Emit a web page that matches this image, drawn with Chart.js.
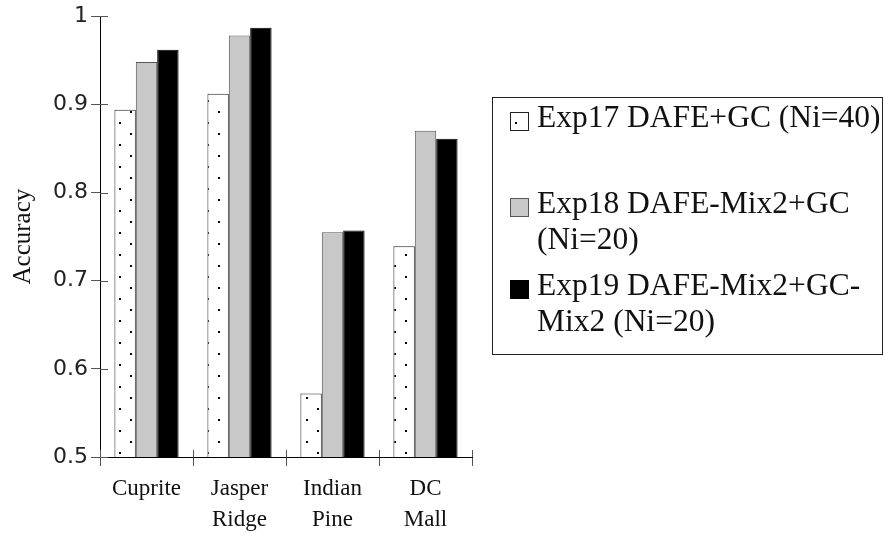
<!DOCTYPE html>
<html>
<head>
<meta charset="utf-8">
<script src="https://cdn.jsdelivr.net/npm/chart.js@4"></script>
<style>
  html, body { margin: 0; padding: 0; background: #fff; }
</style>
</head>
<body>
<canvas id="chart" width="885" height="533"></canvas>
<script>
const categories = [["Cuprite"], ["Jasper", "Ridge"], ["Indian", "Pine"], ["DC", "Mall"]];
const seriesLabels = [
  ["Exp17 DAFE+GC (Ni=40)"],
  ["Exp18 DAFE-Mix2+GC", "(Ni=20)"],
  ["Exp19 DAFE-Mix2+GC-", "Mix2 (Ni=20)"]
];
const exp17 = [0.894, 0.912, 0.572, 0.739];
const exp18 = [0.948, 0.978, 0.755, 0.870];
const exp19 = [0.962, 0.987, 0.757, 0.861];
const yTicks = [0.5, 0.6, 0.7, 0.8, 0.9, 1];

// sparse dot fill used by the Exp17 bars
function dotPattern() {
  const c = document.createElement("canvas");
  c.width = 22; c.height = 22;
  const g = c.getContext("2d");
  g.fillStyle = "#fff";
  g.fillRect(0, 0, 22, 22);
  g.fillStyle = "#000";
  g.fillRect(9, 12, 2, 2);
  g.fillRect(20, 1, 2, 2);
  return g.createPattern(c, "repeat");
}
const dots = dotPattern();
const fills = [dots, "#c8c8c8", "#000"];
const edges = ["#222", "#555", "#000"];

// ticks that cross the axes + boxed legend on the right
const extras = {
  id: "extras",
  afterDraw(chart) {
    const ctx = chart.ctx;
    const ca = chart.chartArea;
    const xs = chart.scales.x, ys = chart.scales.y;
    ctx.save();
    ctx.strokeStyle = "#555";
    ctx.lineWidth = 1;
    ctx.beginPath();
    ys.ticks.forEach((t) => {
      const py = Math.round(ys.getPixelForValue(t.value)) + 0.5;
      ctx.moveTo(ca.left, py);
      ctx.lineTo(ca.left + 8, py);
    });
    for (let i = 0; i <= categories.length; i++) {
      const px = Math.round(xs.getPixelForValue(i - 0.5)) + 0.5;
      ctx.moveTo(px, ca.bottom);
      ctx.lineTo(px, ca.bottom - 7);
    }
    ctx.stroke();

    // legend
    ctx.strokeStyle = "#222";
    ctx.strokeRect(492.5, 97.5, 390, 257);
    const baselines = [127, 213, 295];
    ctx.font = "31.5px 'Liberation Serif'";
    ctx.textBaseline = "alphabetic";
    ctx.textAlign = "left";
    seriesLabels.forEach((lines, i) => {
      const b = baselines[i];
      ctx.fillStyle = fills[i];
      ctx.fillRect(510, b - 15, 19, 19);
      ctx.strokeStyle = edges[i];
      ctx.strokeRect(510.5, b - 14.5, 18, 18);
      ctx.fillStyle = "#111";
      lines.forEach((s, j) => ctx.fillText(s, 537, b + j * 36));
    });
    ctx.restore();
  }
};

new Chart(document.getElementById("chart"), {
  type: "bar",
  data: {
    labels: categories,
    datasets: [exp17, exp18, exp19].map((d, i) => ({
      label: seriesLabels[i].join(" "),
      data: d,
      backgroundColor: fills[i],
      borderColor: edges[i],
      borderWidth: 1,
      categoryPercentage: 0.69,
      barPercentage: 1
    }))
  },
  options: {
    responsive: false,
    animation: false,
    layout: { padding: { top: 15, right: 413, bottom: 0, left: 0 } },
    plugins: { legend: { display: false }, tooltip: { enabled: false } },
    scales: {
      x: {
        grid: { drawOnChartArea: false, drawTicks: true, tickLength: 9, color: "#555", offset: true },
        border: { display: true, color: "#000", width: 1 },
        ticks: { color: "#111", padding: 7, font: { family: "'Liberation Serif'", size: 23, lineHeight: 1.35 } },
        afterFit: (s) => { s.height = 76; }
      },
      y: {
        min: 0.5,
        max: 1,
        afterBuildTicks: (s) => { s.ticks = yTicks.map((v) => ({ value: v })); },
        grid: { drawOnChartArea: false, drawTicks: true, tickLength: 9, color: "#555" },
        border: { display: true, color: "#000", width: 1 },
        ticks: {
          color: "#222",
          padding: 3,
          font: { family: "'DejaVu Sans'", size: 22 },
          callback: (v) => String(+Number(v).toFixed(1))
        },
        title: { display: true, text: "Accuracy", color: "#111", padding: { top: 8, bottom: 0 }, font: { family: "'Liberation Serif'", size: 25 } },
        afterFit: (s) => { s.width = 100; }
      }
    }
  },
  plugins: [extras]
});
</script>
</body>
</html>
